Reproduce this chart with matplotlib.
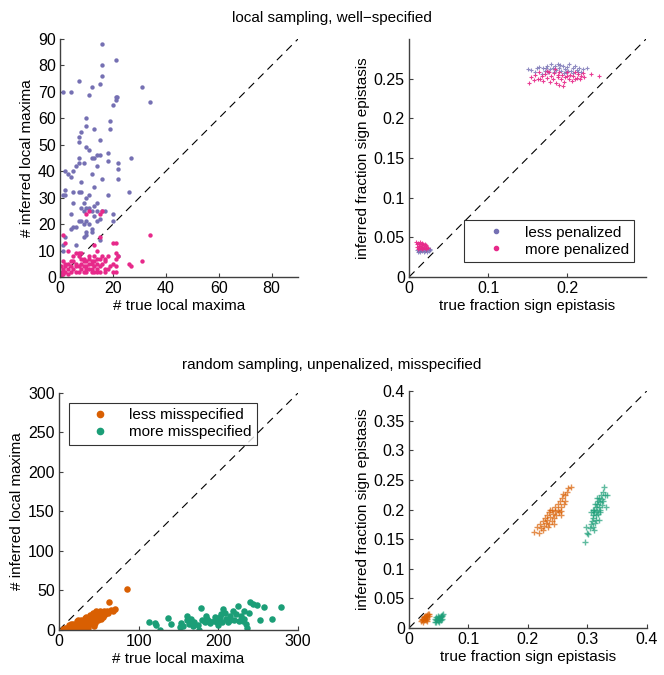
import matplotlib
matplotlib.use("Agg")
import matplotlib.pyplot as plt
from matplotlib.lines import Line2D

plt.rcParams["font.family"] = ["Liberation Sans", "DejaVu Sans"]
plt.rcParams["font.size"] = 11

BLUE = "#7570B3"
PINK = "#E7298A"
ORANGE = "#D95F02"
GREEN = "#1B9E77"

# top-left: local maxima, local sampling
tl_less_x = [16, 21, 16, 7, 16, 15, 1, 4, 12, 11, 31, 21, 21.5, 21, 34, 20, 19, 10, 10, 19,
             8, 13, 7, 15, 7, 10, 11, 14, 13, 12, 15, 18, 7, 22, 22, 18, 9, 7, 6, 14,
             2, 3, 4, 5, 12, 16, 22, 27, 8, 2, 1, 2, 5, 7, 8, 10, 11, 13, 18, 26,
             5, 9, 14, 13, 10, 8, 11, 4, 12, 13, 16, 17, 20, 15, 14, 7, 8, 6, 5, 4,
             10, 12, 9, 20, 12, 10, 9, 2, 15, 1, 1, 6, 11, 9, 10, 14, 22]
tl_less_y = [88, 82, 80, 74, 76, 73, 70, 70, 72, 69, 72, 68, 68, 67, 66, 65, 59, 60, 57, 56,
             55, 56, 53, 52, 51, 49, 48, 46, 45, 45, 46, 47, 45, 43, 41, 44, 43, 43, 42, 42,
             40, 39, 38, 40, 39, 37, 37, 45, 36, 33, 31, 31, 32, 32, 32, 30, 31, 34, 31, 32,
             28, 28, 28, 27, 26, 26, 26, 24, 25, 23, 25, 25, 24, 22, 21, 21, 21, 19, 19, 18,
             17, 18, 20, 21, 17, 16, 15, 15, 14, 12, 10, 12, 20, 25, 21, 25, 8]
tl_more_x = [1, 34, 16, 15, 10, 11, 20, 21, 21, 22, 21, 3, 14, 7, 8, 11, 13, 16, 18, 9,
             14, 15, 17, 1, 4, 5, 9, 10, 12, 13, 17, 31, 26, 27, 3, 6, 8, 11, 12, 14,
             16, 20, 0.5, 2, 4, 6, 7, 9, 10, 13, 15, 19, 21, 1, 3, 5, 8, 11, 12, 14,
             17, 0, 2, 4, 6, 7, 9, 10, 12, 13, 14, 15, 17, 20, 21, 1, 3, 0.5, 2, 7,
             10, 13, 1, 2, 15, 5, 8, 11, 6, 18]
tl_more_y = [16, 16, 25, 24, 24, 25, 13, 13, 9, 8, 7, 10, 10, 9, 9, 8, 8, 8, 8, 7,
             7, 7, 7, 6, 6, 6, 6, 6, 6, 6, 6, 6, 5, 4, 5, 5, 5, 5, 5, 5,
             5, 5, 4, 4, 4, 4, 4, 4, 4, 4, 4, 4, 4, 3, 3, 3, 3, 3, 3, 3,
             3, 2, 2, 2, 2, 2, 2, 2, 2, 2, 2, 2, 2, 2, 2, 1, 1, 0.5, 13, 8,
             3, 12, 2, 5, 15, 8, 7, 7, 9, 3]

# top-right: fraction sign epistasis, local sampling
tr_less_x = [0.150, 0.155, 0.160, 0.165, 0.170, 0.172, 0.175, 0.178, 0.180, 0.182, 0.185, 0.188,
             0.190, 0.192, 0.195, 0.198, 0.200, 0.203, 0.205, 0.208, 0.210, 0.212, 0.215, 0.218,
             0.220, 0.225, 0.168, 0.183, 0.196, 0.207, 0.176, 0.186, 0.201, 0.214, 0.162, 0.191,
             0.173, 0.199,
             0.010, 0.012, 0.014, 0.015, 0.017, 0.018, 0.020, 0.021, 0.023, 0.025, 0.027, 0.013,
             0.016, 0.019, 0.022, 0.026, 0.011, 0.024]
tr_less_y = [0.262, 0.261, 0.258, 0.265, 0.263, 0.260, 0.266, 0.262, 0.268, 0.264, 0.266, 0.268,
             0.263, 0.260, 0.266, 0.262, 0.265, 0.268, 0.260, 0.263, 0.266, 0.261, 0.263, 0.259,
             0.262, 0.263, 0.256, 0.258, 0.257, 0.257, 0.259, 0.261, 0.260, 0.258, 0.263, 0.267,
             0.264, 0.258,
             0.034, 0.033, 0.032, 0.034, 0.033, 0.035, 0.033, 0.034, 0.032, 0.033, 0.035, 0.035,
             0.036, 0.032, 0.035, 0.034, 0.032, 0.036]
tr_more_x = [0.152, 0.155, 0.158, 0.160, 0.163, 0.165, 0.168, 0.170, 0.172, 0.175, 0.177, 0.180,
             0.182, 0.184, 0.186, 0.188, 0.190, 0.190, 0.192, 0.194, 0.196, 0.198, 0.200, 0.202,
             0.204, 0.206, 0.208, 0.210, 0.212, 0.214, 0.216, 0.218, 0.220, 0.222, 0.230, 0.241,
             0.185, 0.178, 0.195, 0.174, 0.166, 0.188, 0.200, 0.210,
             0.009, 0.010, 0.011, 0.012, 0.013, 0.014, 0.015, 0.016, 0.017, 0.018, 0.019, 0.020,
             0.021, 0.022, 0.012, 0.014, 0.016, 0.018, 0.020, 0.010, 0.013, 0.015, 0.017, 0.019,
             0.011, 0.021, 0.023, 0.024]
tr_more_y = [0.245, 0.252, 0.248, 0.255, 0.250, 0.258, 0.253, 0.247, 0.256, 0.251, 0.259, 0.254,
             0.249, 0.257, 0.245, 0.252, 0.242, 0.258, 0.249, 0.255, 0.246, 0.252, 0.258, 0.250,
             0.255, 0.247, 0.253, 0.258, 0.251, 0.256, 0.249, 0.254, 0.257, 0.252, 0.256, 0.253,
             0.262, 0.246, 0.241, 0.260, 0.249, 0.255, 0.253, 0.249,
             0.044, 0.041, 0.043, 0.039, 0.042, 0.037, 0.040, 0.043, 0.038, 0.041, 0.036, 0.039,
             0.037, 0.035, 0.036, 0.044, 0.035, 0.037, 0.042, 0.038, 0.039, 0.036, 0.042, 0.040,
             0.035, 0.040, 0.038, 0.036]

# bottom-left: local maxima, random sampling
bl_less_x = [5, 8, 10, 12, 14, 15, 16, 18, 20, 22, 24, 25, 26, 28, 30, 30, 32, 33, 35, 36,
             38, 38, 40, 40, 42, 42, 44, 45, 46, 47, 48, 50, 50, 52, 54, 55, 56, 58, 60, 62,
             63, 65, 68, 70, 85, 18, 22, 27, 34, 37, 43, 52, 28, 35, 45, 12, 20, 15, 33, 41,
             49, 57, 39, 31, 26, 46, 53, 24, 36, 44]
bl_less_y = [1, 2, 3, 2, 4, 1, 5, 3, 6, 4, 8, 5, 10, 7, 9, 4, 12, 6, 10, 14,
             8, 15, 12, 18, 10, 16, 14, 20, 12, 18, 22, 15, 20, 18, 22, 16, 24, 20, 24, 22,
             35, 25, 24, 27, 52, 8, 11, 13, 17, 12, 21, 24, 3, 5, 9, 6, 1, 7, 15, 7,
             13, 19, 19, 2, 6, 24, 14, 12, 3, 5]
bl_more_x = [113, 121, 127, 137, 140, 153, 155, 160, 163, 165, 168, 170, 175, 176, 178, 180, 183, 186,
             190, 195, 198, 200, 202, 205, 208, 210, 212, 215, 218, 220, 222, 225, 228, 232, 235, 236,
             238, 240, 243, 249, 257, 267, 278, 160, 185, 196, 203, 206, 214, 226, 232, 122, 152, 188,
             199, 231, 252]
bl_more_y = [10, 9, 0, 15, 8, 9, 5, 12, 8, 14, 5, 10, 6, 0, 28, 12, 10, 14,
             9, 11, 10, 12, 16, 10, 22, 14, 10, 18, 24, 13, 20, 30, 18, 14, 8, 2,
             22, 35, 33, 31, 29, 14, 29, 18, 18, 16, 20, 27, 13, 11, 24, 6, 4, 11,
             6, 11, 13]

# bottom-right: fraction sign epistasis, random sampling
br_less_x = [0.210, 0.215, 0.218, 0.220, 0.222, 0.225, 0.227, 0.228, 0.230, 0.232, 0.233, 0.235,
             0.236, 0.238, 0.240, 0.240, 0.242, 0.244, 0.245, 0.246, 0.248, 0.250, 0.250, 0.252,
             0.254, 0.255, 0.256, 0.258, 0.260, 0.262, 0.265, 0.268, 0.272, 0.226, 0.234, 0.238,
             0.244, 0.256, 0.259, 0.263,
             0.020, 0.022, 0.023, 0.024, 0.025, 0.026, 0.027, 0.028, 0.029, 0.030, 0.031, 0.032,
             0.033, 0.034, 0.021, 0.025, 0.028, 0.031, 0.027, 0.030]
br_less_y = [0.162, 0.170, 0.160, 0.175, 0.168, 0.180, 0.172, 0.185, 0.178, 0.190, 0.183, 0.175,
             0.195, 0.187, 0.180, 0.200, 0.192, 0.185, 0.205, 0.197, 0.190, 0.210, 0.200, 0.195,
             0.215, 0.205, 0.198, 0.220, 0.210, 0.225, 0.230, 0.236, 0.238, 0.165, 0.170, 0.200,
             0.175, 0.190, 0.227, 0.215,
             0.012, 0.014, 0.011, 0.016, 0.013, 0.018, 0.015, 0.020, 0.017, 0.022, 0.019, 0.024,
             0.021, 0.023, 0.015, 0.019, 0.013, 0.015, 0.021, 0.012]
br_more_x = [0.296, 0.297, 0.300, 0.302, 0.305, 0.306, 0.308, 0.309, 0.310, 0.311, 0.312, 0.313,
             0.314, 0.315, 0.316, 0.317, 0.318, 0.319, 0.320, 0.321, 0.322, 0.323, 0.324, 0.325,
             0.326, 0.327, 0.328, 0.330, 0.331, 0.333, 0.309, 0.312, 0.315, 0.318, 0.320, 0.322,
             0.307, 0.310, 0.313, 0.316,
             0.043, 0.045, 0.046, 0.047, 0.048, 0.049, 0.050, 0.051, 0.052, 0.053, 0.054, 0.055,
             0.056, 0.057, 0.046, 0.050, 0.053, 0.048, 0.055, 0.044]
br_more_y = [0.146, 0.170, 0.160, 0.158, 0.168, 0.175, 0.180, 0.190, 0.185, 0.195, 0.200, 0.178,
             0.205, 0.190, 0.210, 0.198, 0.215, 0.205, 0.220, 0.200, 0.212, 0.225, 0.208, 0.218,
             0.230, 0.215, 0.238, 0.225, 0.205, 0.224, 0.170, 0.165, 0.183, 0.192, 0.183, 0.195,
             0.195, 0.200, 0.210, 0.220,
             0.011, 0.013, 0.010, 0.015, 0.012, 0.017, 0.014, 0.019, 0.016, 0.021, 0.018, 0.022,
             0.020, 0.023, 0.018, 0.011, 0.013, 0.020, 0.015, 0.015]

tl_ticks = [0, 20, 40, 60, 80]
tl_yticks = [0, 10, 20, 30, 40, 50, 60, 70, 80, 90]
tr_xticks = [0, 0.1, 0.2]
tr_yticks = [0, 0.05, 0.1, 0.15, 0.2, 0.25]
bl_ticks = [0, 50, 100, 150, 200, 250, 300]
bl_xticks = [0, 100, 200, 300]
br_xticks = [0, 0.1, 0.2, 0.3, 0.4]
br_yticks = [0, 0.05, 0.1, 0.15, 0.2, 0.25, 0.3, 0.35, 0.4]


def style(ax, lim, xticks, yticks, xlabel, ylabel):
    ax.plot([0, lim], [0, lim], color="black", linestyle=(0, (7, 5)), linewidth=0.8, zorder=1)
    ax.set_xlim(0, lim)
    ax.set_ylim(0, lim)
    ax.set_xticks(xticks)
    ax.set_yticks(yticks)
    ax.set_xticklabels([f"{t:g}" for t in xticks])
    ax.set_yticklabels([f"{t:g}" for t in yticks])
    ax.set_xlabel(xlabel, labelpad=2)
    ax.set_ylabel(ylabel, labelpad=3)
    ax.spines["top"].set_visible(False)
    ax.spines["right"].set_visible(False)
    for s in ("left", "bottom"):
        ax.spines[s].set_color("#404040")
        ax.spines[s].set_linewidth(1.0)
    ax.tick_params(direction="in", length=3, width=0.8, color="#404040", pad=3, labelsize=11.5)


def add_legend(ax, colors, labels, ms, loc, anchor):
    handles = [Line2D([], [], marker="o", markersize=ms, linestyle="none", color=c) for c in colors]
    leg = ax.legend(handles, labels, loc=loc, bbox_to_anchor=anchor, borderaxespad=0,
                    frameon=True, fancybox=False, edgecolor="black", fontsize=11,
                    handletextpad=0.2, borderpad=0.35, labelspacing=0.2, handlelength=3.4)
    leg.get_frame().set_linewidth(0.8)


fig = plt.figure(figsize=(6.64, 6.75), dpi=100)
ax1 = fig.add_axes([0.0904, 0.5896, 0.3584, 0.3526])
ax2 = fig.add_axes([0.616, 0.5896, 0.357, 0.3526])
ax3 = fig.add_axes([0.0889, 0.0667, 0.36, 0.3511])
ax4 = fig.add_axes([0.616, 0.0696, 0.358, 0.3511])

# top-left
ax1.scatter(tl_less_x, tl_less_y, s=10, color=BLUE, linewidths=0, zorder=2)
ax1.scatter(tl_more_x, tl_more_y, s=10, color=PINK, linewidths=0, zorder=2)
style(ax1, 90, tl_ticks, tl_yticks, "# true local maxima", "# inferred local maxima")

# top-right
ax2.scatter(tr_less_x, tr_less_y, s=10, marker="+", color=BLUE, linewidths=0.8, alpha=0.8, zorder=2)
ax2.scatter(tr_more_x, tr_more_y, s=10, marker="+", color=PINK, linewidths=0.8, alpha=0.9, zorder=2)
style(ax2, 0.3, tr_xticks, tr_yticks, "true fraction sign epistasis", "inferred fraction sign epistasis")
add_legend(ax2, [BLUE, PINK], ["less penalized", "more penalized"], 3, "lower right", (0.95, 0.063))

# bottom-left
ax3.scatter(bl_less_x, bl_less_y, s=22, color=ORANGE, linewidths=0, zorder=2)
ax3.scatter(bl_more_x, bl_more_y, s=22, color=GREEN, linewidths=0, zorder=2)
style(ax3, 300, bl_xticks, bl_ticks, "# true local maxima", "# inferred local maxima")
add_legend(ax3, [ORANGE, GREEN], ["less misspecified", "more misspecified"], 4.5, "upper left", (0.042, 0.958))

# bottom-right
ax4.scatter(br_less_x, br_less_y, s=22, marker="+", color=ORANGE, linewidths=1.0, alpha=0.7, zorder=2)
ax4.scatter(br_more_x, br_more_y, s=22, marker="+", color=GREEN, linewidths=1.0, alpha=0.7, zorder=2)
style(ax4, 0.4, br_xticks, br_yticks, "true fraction sign epistasis", "inferred fraction sign epistasis")

fig.text(0.5, 0.974, "local sampling, well\u2212specified", ha="center", va="center", fontsize=11)
fig.text(0.5, 0.459, "random sampling, unpenalized, misspecified", ha="center", va="center", fontsize=11)

fig.savefig("out.png", dpi=100)
